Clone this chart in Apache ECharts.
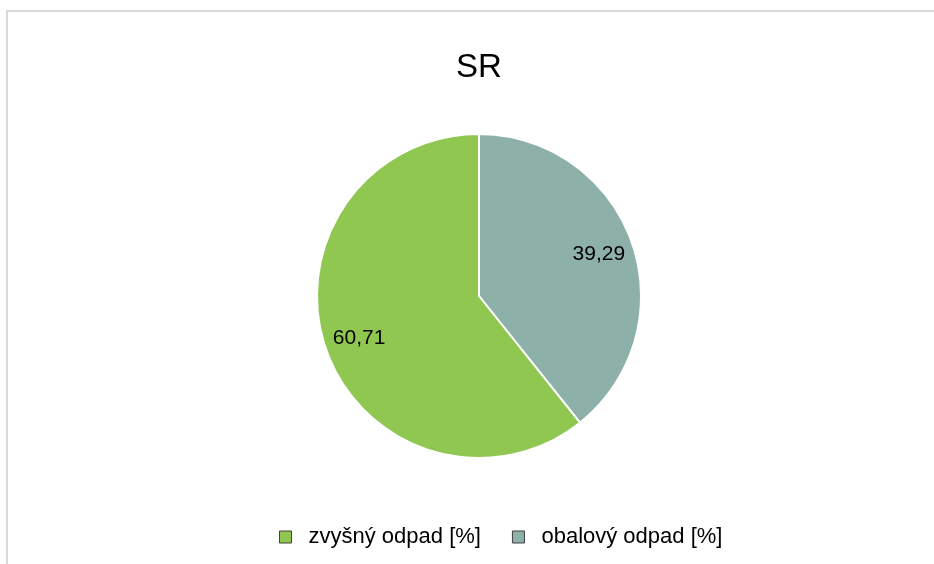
<!DOCTYPE html>
<html>
<head>
<meta charset="utf-8">
<script src="https://cdn.jsdelivr.net/npm/echarts@6/dist/echarts.min.js"></script>
<style>
  html, body { margin: 0; padding: 0; background: #fff; }
  #chart { width: 934px; height: 564px; }
</style>
</head>
<body>
<div id="chart"></div>
<script>
// hodnoty z grafu
var titleText = "SR";
var sliceNames = ["obalový odpad [%]", "zvyšný odpad [%]"];
var sliceValues = [39.29, 60.71];
var sliceColors = ["#8db1a8", "#8fc751"];
var legendOrder = ["zvyšný odpad [%]", "obalový odpad [%]"];

var pieData = [];
for (var i = 0; i < sliceNames.length; i++) {
    pieData.push({
        name: sliceNames[i],
        value: sliceValues[i],
        itemStyle: { color: sliceColors[i] }
    });
}

// kopia dat len pre popisky (priehladna)
var labelData = [];
for (var j = 0; j < sliceNames.length; j++) {
    labelData.push({
        name: sliceNames[j],
        value: sliceValues[j],
        itemStyle: { color: "rgba(0,0,0,0)", borderWidth: 0 }
    });
}

var fontFam = "'Liberation Sans', Arial, sans-serif";

var chart = echarts.init(document.getElementById("chart"));
chart.setOption({
    animation: false,
    title: {
        text: titleText,
        left: 479,
        textAlign: "center",
        top: 51,
        padding: 0,
        textStyle: { fontFamily: fontFam, fontSize: 33, fontWeight: "normal", color: "#000" }
    },
    legend: {
        data: legendOrder,
        left: 279,
        top: 526,
        padding: 0,
        icon: "rect",
        itemWidth: 12,
        itemHeight: 12,
        itemGap: 31,
        itemStyle: { borderColor: "#404040", borderWidth: 1 },
        textStyle: { fontFamily: fontFam, fontSize: 22, color: "#000", padding: [0, 0, 0, 12] }
    },
    graphic: [{
        type: "rect",
        shape: { x: 7, y: 11, width: 1000, height: 1000 },
        style: { fill: "none", stroke: "#d9d9d9", lineWidth: 2 },
        silent: true
    }],
    series: [{
        type: "pie",
        center: [479, 296],
        radius: 162,
        startAngle: 90,
        clockwise: true,
        label: { show: false },
        labelLine: { show: false },
        itemStyle: { borderColor: "#fff", borderWidth: 2 },
        data: pieData
    }, {
        type: "pie",
        center: [479, 296],
        radius: 248,
        startAngle: 90,
        clockwise: true,
        silent: true,
        z: 3,
        label: {
            show: true,
            position: "inside",
            fontFamily: fontFam,
            fontSize: 21,
            color: "#000",
            formatter: function (p) { return p.value.toFixed(2).replace(".", ","); }
        },
        labelLine: { show: false },
        data: labelData
    }]
});
</script>
</body>
</html>
